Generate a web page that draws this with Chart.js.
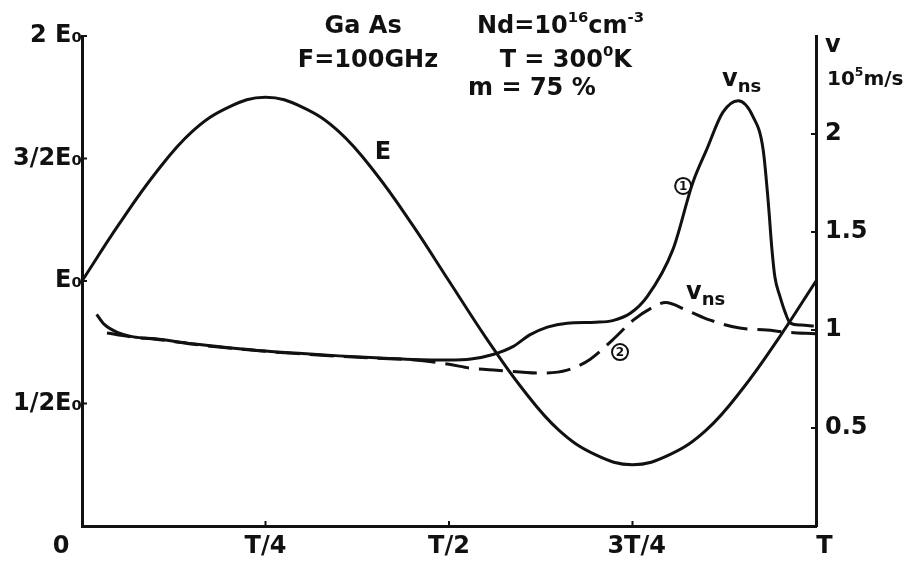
<!DOCTYPE html>
<html>
<head>
<meta charset="utf-8">
<script src="https://cdn.jsdelivr.net/npm/chart.js@4.4.1/dist/chart.umd.min.js"></script>
<style>
  body { margin: 0; background: #fff; }
</style>
</head>
<body>
<canvas id="myChart" width="913" height="566"></canvas>
<script>
// time axis in fractions of the period T
const xTicks = [0, 0.25, 0.5, 0.75, 1];
const xTickLabels = ["0     ", "T/4", "T/2", " 3T/4", "  T"];
// left axis: field in units of E0
const eTicks = [0.5, 1, 1.5, 2];
const eTickLabels = ["1/2E₀", "E₀", "3/2E₀", "2 E₀"];
// right axis: velocity in 10^5 m/s
const vTicks = [0.5, 1, 1.5, 2];
const vTickLabels = ["0.5", "1", "1.5", "2"];

// field E
const eTime = [0, 0.05, 0.1, 0.15, 0.2, 0.25, 0.3, 0.35, 0.4, 0.45, 0.5,
  0.55, 0.6, 0.65, 0.7, 0.75, 0.8, 0.85, 0.9, 0.95, 1];
const eField = [1.0, 1.23, 1.44, 1.61, 1.71, 1.75, 1.71, 1.61, 1.44, 1.23, 1.0,
  0.77, 0.56, 0.39, 0.29, 0.25, 0.29, 0.39, 0.56, 0.77, 1.0];

// vns, curve 1 (solid)
const v1Time = [0.02, 0.03, 0.05, 0.07, 0.1, 0.15, 0.2, 0.25, 0.3, 0.35, 0.4, 0.45,
  0.5, 0.53, 0.56, 0.587, 0.61, 0.634, 0.661, 0.7, 0.723, 0.747, 0.77, 0.805,
  0.832, 0.851, 0.873, 0.894, 0.914, 0.928, 0.935, 0.94, 0.944, 0.951, 0.958,
  0.965, 0.98, 0.997];
const v1Speed = [1.08, 1.03, 0.985, 0.965, 0.955, 0.93, 0.91, 0.893, 0.88, 0.868, 0.858, 0.85,
  0.847, 0.852, 0.875, 0.915, 0.975, 1.015, 1.035, 1.04, 1.048, 1.085, 1.17, 1.41,
  1.75, 1.92, 2.11, 2.17, 2.09, 1.92, 1.65, 1.41, 1.27, 1.17, 1.09,
  1.035, 1.025, 1.02];

// vns, curve 2 (dashed)
const v2Time = [0.034, 0.05, 0.07, 0.1, 0.15, 0.2, 0.25, 0.3, 0.35, 0.4, 0.45, 0.5,
  0.53, 0.565, 0.624, 0.661, 0.692, 0.723, 0.751, 0.775, 0.795, 0.824, 0.856,
  0.896, 0.933, 0.958, 1.0];
const v2Speed = [0.985, 0.975, 0.963, 0.953, 0.928, 0.908, 0.891, 0.878, 0.866, 0.856, 0.848, 0.825,
  0.805, 0.795, 0.78, 0.795, 0.85, 0.95, 1.05, 1.11, 1.14, 1.10, 1.05,
  1.01, 1.0, 0.99, 0.98];

const toPoints = (xs, ys) => xs.map((x, i) => ({ x: x, y: ys[i] }));

Chart.defaults.font.family = "'DejaVu Sans', sans-serif";
Chart.defaults.font.size = 24;
Chart.defaults.font.weight = "bold";
Chart.defaults.color = "#111";

// texts written on the figure, placed in data units
const notes = [
  { x: 0.383, y: 2.037, align: "center", runs: [["Ga As"]] },
  { x: 0.538, y: 2.037, runs: [["Nd=10"], ["16", "sup"], ["cm"], ["-3", "sup"]] },
  { x: 0.294, y: 1.898, runs: [["F=100GHz"]] },
  { x: 0.569, y: 1.898, runs: [["T = 300"], ["0", "sup"], ["K"]] },
  { x: 0.526, y: 1.784, runs: [["m = 75 %"]] },
  { x: 0.41, y: 1.522, align: "center", runs: [["E"]] },
  { x: 0.872, y: 1.82, runs: [["v"], ["ns", "sub"]] },
  { x: 0.823, y: 0.951, runs: [["v"], ["ns", "sub"]] },
  { x: 1.023, y: 1.959, align: "center", runs: [["v"]] },
  { x: 1.015, y: 1.82, size: 20, runs: [["10"], ["5", "sup"], ["m/s"]] },
];
const circled = [
  { x: 0.819, y: 1.388, text: "1" },
  { x: 0.733, y: 0.71, text: "2" },
];

const fontOf = (size) => "bold " + size + "px 'DejaVu Sans', sans-serif";

const notesPlugin = {
  id: "notes",
  afterDraw(chart) {
    const ctx = chart.ctx;
    const xs = chart.scales.x;
    const ys = chart.scales.y;
    const vs = chart.scales.y1;
    ctx.save();
    ctx.fillStyle = "#111";
    ctx.strokeStyle = "#111";
    ctx.textBaseline = "middle";
    ctx.textAlign = "left";

    // short inward tick marks
    ctx.lineWidth = 2;
    ctx.beginPath();
    xTicks.slice(1, 4).forEach((v) => {
      const px = xs.getPixelForValue(v);
      ctx.moveTo(px, xs.top);
      ctx.lineTo(px, xs.top - 5);
    });
    eTicks.forEach((v) => {
      const py = ys.getPixelForValue(v);
      ctx.moveTo(ys.right, py);
      ctx.lineTo(ys.right + 5, py);
    });
    vTicks.forEach((v) => {
      const py = vs.getPixelForValue(v);
      ctx.moveTo(vs.left, py);
      ctx.lineTo(vs.left - 5, py);
    });
    ctx.stroke();

    notes.forEach((n) => {
      const base = n.size || 24;
      const runFont = (r) => fontOf(r[1] === "sub" ? base * 0.75 : r[1] ? base * 0.62 : base);
      let width = 0;
      n.runs.forEach((r) => {
        ctx.font = runFont(r);
        width += ctx.measureText(r[0]).width;
      });
      let px = xs.getPixelForValue(n.x);
      const py = ys.getPixelForValue(n.y);
      if (n.align === "center") px -= width / 2;
      n.runs.forEach((r) => {
        ctx.font = runFont(r);
        let dy = 0;
        if (r[1] === "sup") dy = -base * 0.38;
        if (r[1] === "sub") dy = base * 0.3;
        ctx.fillText(r[0], px, py + dy);
        px += ctx.measureText(r[0]).width;
      });
    });

    circled.forEach((c) => {
      const px = xs.getPixelForValue(c.x);
      const py = ys.getPixelForValue(c.y);
      ctx.beginPath();
      ctx.lineWidth = 2;
      ctx.arc(px, py, 8, 0, Math.PI * 2);
      ctx.stroke();
      ctx.font = fontOf(12);
      ctx.textAlign = "center";
      ctx.fillText(c.text, px, py + 1);
      ctx.textAlign = "left";
    });
    ctx.restore();
  },
};

const lineStyle = {
  borderColor: "#111",
  borderWidth: 3,
  pointRadius: 0,
  fill: false,
  cubicInterpolationMode: "monotone",
};

new Chart("myChart", {
  type: "line",
  data: {
    datasets: [
      Object.assign({}, lineStyle, { label: "E", data: toPoints(eTime, eField), yAxisID: "y",
        cubicInterpolationMode: "default", tension: 0.4 }),
      Object.assign({}, lineStyle, { label: "vns 1", data: toPoints(v1Time, v1Speed), yAxisID: "y1" }),
      Object.assign({}, lineStyle, { label: "vns 2", data: toPoints(v2Time, v2Speed), yAxisID: "y1",
        borderDash: [24, 10] }),
    ],
  },
  options: {
    responsive: false,
    animation: false,
    layout: { padding: { top: 36, left: 0, right: 0, bottom: 0 } },
    plugins: { legend: { display: false }, tooltip: { enabled: false } },
    scales: {
      x: {
        type: "linear",
        min: 0,
        max: 1,
        grid: { display: false, drawTicks: false },
        border: { display: true, color: "#111", width: 3 },
        afterBuildTicks: (axis) => { axis.ticks = xTicks.map((v) => ({ value: v })); },
        afterFit: (axis) => { axis.height = 40; },
        ticks: {
          padding: 6,
          maxRotation: 0,
          callback: (value, i) => xTickLabels[i],
        },
      },
      y: {
        position: "left",
        min: 0,
        max: 2,
        grid: { display: false, drawTicks: false },
        border: { display: true, color: "#111", width: 3 },
        afterBuildTicks: (axis) => { axis.ticks = eTicks.map((v) => ({ value: v })); },
        afterFit: (axis) => { axis.width = 82; },
        ticks: {
          padding: 0,
          callback: (value, i) => eTickLabels[i],
        },
      },
      y1: {
        position: "right",
        min: 0,
        max: 2.5,
        grid: { display: false, drawTicks: false },
        border: { display: true, color: "#111", width: 3 },
        afterBuildTicks: (axis) => { axis.ticks = vTicks.map((v) => ({ value: v })); },
        afterFit: (axis) => { axis.width = 97; },
        ticks: {
          padding: 9,
          callback: (value, i) => vTickLabels[i],
        },
      },
    },
  },
  plugins: [notesPlugin],
});
</script>
</body>
</html>
